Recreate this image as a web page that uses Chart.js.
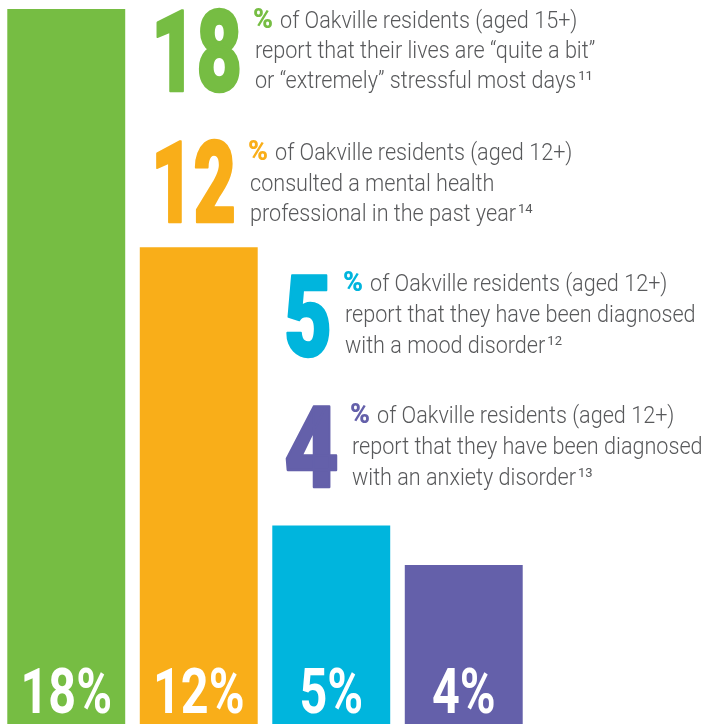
<!DOCTYPE html>
<html>
<head>
<meta charset="utf-8">
<script src="https://cdn.jsdelivr.net/npm/chart.js@4.4.1/dist/chart.umd.min.js"></script>
<style>
  html, body { margin: 0; padding: 0; background: #fff; }
  canvas { display: block; }
</style>
</head>
<body>
<canvas id="myChart" width="706" height="724"></canvas>
<script>
// data
var categories = ['Stressful most days', 'Saw mental health professional', 'Mood disorder', 'Anxiety disorder'];
var values = [18, 12, 5, 4];
var valueLabels = ['18%', '12%', '5%', '4%'];
var bigNumbers = ['18', '12', '5', '4'];
var barColors = ['#76bd43', '#f9ae19', '#00b5dd', '#6460aa'];
var noteLines = [
    ['of Oakville residents (aged 15+)', 'report that their lives are \u201cquite a bit\u201d', 'or \u201cextremely\u201d stressful most days'],
    ['of Oakville residents (aged 12+)', 'consulted a mental health', 'professional in the past year'],
    ['of Oakville residents (aged 12+)', 'report that they have been diagnosed', 'with a mood disorder'],
    ['of Oakville residents (aged 12+)', 'report that they have been diagnosed', 'with an anxiety disorder']
];
var footnotes = ['11', '14', '12', '13'];

// where each text block sits (x of number, x of text, baselines)
var blocks = [
    { numX: 151, numW: 91, numBase: 91,  textX: 253, lines: [28, 58, 88] },
    { numX: 151, numW: 85, numBase: 222, textX: 248, lines: [160, 191, 221] },
    { numX: 284, numW: 48, numBase: 356, textX: 343, lines: [291, 322, 353] },
    { numX: 284, numW: 55, numBase: 487, textX: 350, lines: [423, 454, 485] }
];

var textGray = '#58595b';
var noteFont = "300 23px Roboto, 'Liberation Sans', sans-serif";
var noteScale = 0.94;

function scaledText(ctx, text, x, y, sx) {
    ctx.save();
    ctx.translate(x, y);
    ctx.scale(sx, 1);
    ctx.fillText(text, 0, 0);
    ctx.restore();
}

var labelsPlugin = {
    id: 'labels',
    afterDatasetsDraw: function(chart) {
        var ctx = chart.ctx;
        var area = chart.chartArea;
        var bars = chart.getDatasetMeta(0).data;

        // value labels at the foot of each bar
        ctx.save();
        ctx.fillStyle = '#fff';
        ctx.textBaseline = 'alphabetic';
        ctx.font = "bold 63px Roboto, 'Liberation Sans', sans-serif";
        bars.forEach(function(bar, i) {
            var w = ctx.measureText(valueLabels[i]).width * 0.77;
            scaledText(ctx, valueLabels[i], bar.x - w / 2, area.bottom - 11, 0.77);
        });
        ctx.restore();

        // annotation blocks
        blocks.forEach(function(b, i) {
            ctx.save();
            ctx.textAlign = 'left';
            ctx.textBaseline = 'alphabetic';
            ctx.fillStyle = barColors[i];
            ctx.strokeStyle = barColors[i];
            ctx.lineWidth = 2.5;
            ctx.lineJoin = 'round';
            ctx.font = "900 114px Roboto, 'Liberation Sans', sans-serif";
            ctx.fillText(bigNumbers[i], b.numX, b.numBase, b.numW);
            ctx.strokeText(bigNumbers[i], b.numX, b.numBase, b.numW);

            ctx.font = "900 27px Roboto, 'Liberation Sans', sans-serif";
            ctx.fillText('%', b.textX, b.lines[0]);
            var pw = ctx.measureText('%').width;

            ctx.fillStyle = textGray;
            ctx.font = noteFont;
            var lines = noteLines[i];
            scaledText(ctx, lines[0], b.textX + pw + 7, b.lines[0], noteScale);
            scaledText(ctx, lines[1], b.textX + 2, b.lines[1], noteScale);
            scaledText(ctx, lines[2], b.textX + 2, b.lines[2], noteScale);
            var lw = ctx.measureText(lines[2]).width * noteScale;
            ctx.font = "400 13px Roboto, 'Liberation Sans', sans-serif";
            ctx.fillText(footnotes[i], b.textX + 2 + lw + 2, b.lines[2] - 8);
            ctx.restore();
        });
    }
};

var ctx = document.getElementById('myChart').getContext('2d');
var myChart = new Chart(ctx, {
    type: 'bar',
    data: {
        labels: categories,
        datasets: [{
            data: values,
            backgroundColor: barColors,
            borderWidth: 0,
            barPercentage: 1,
            categoryPercentage: 0.89
        }]
    },
    options: {
        responsive: false,
        animation: false,
        layout: { padding: { left: -1, right: 176, top: 9, bottom: 0 } },
        plugins: {
            legend: { display: false },
            tooltip: { enabled: false }
        },
        scales: {
            x: { display: false },
            y: { display: false, min: 0, max: 18 }
        }
    },
    plugins: [labelsPlugin]
});
</script>
</body>
</html>
